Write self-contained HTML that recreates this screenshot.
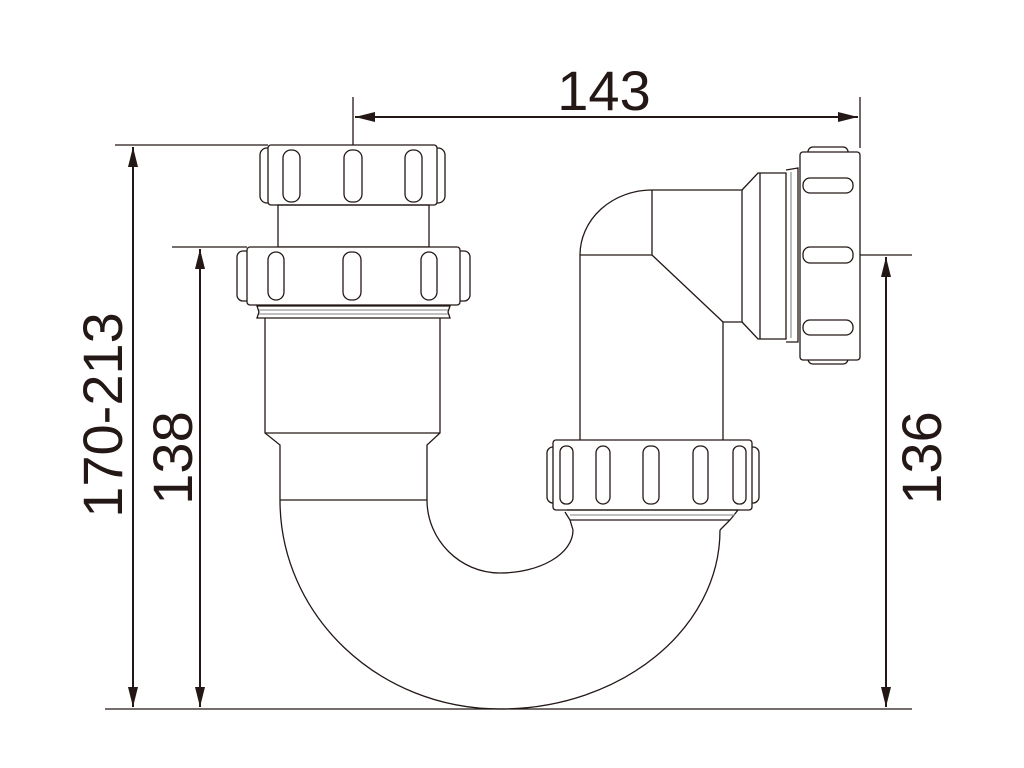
<!DOCTYPE html>
<html><head><meta charset="utf-8"><style>
html,body{margin:0;padding:0;background:#fff;}
svg{display:block;}
text{font-family:"Liberation Sans",Arial,sans-serif;fill:#231815;}
</style></head><body>
<svg width="1024" height="768" viewBox="0 0 1024 768" xmlns="http://www.w3.org/2000/svg">
<defs>
<marker id="a" viewBox="0 0 20 10" refX="20" refY="5" markerWidth="20" markerHeight="10" markerUnits="userSpaceOnUse" orient="auto-start-reverse">
<path d="M0,0 L20,5 L0,10 z" fill="#231815"/></marker>
</defs>
<g stroke="#231815" fill="none" stroke-width="1.3">
<line x1="105" y1="709" x2="912" y2="709"/>
<line x1="353" y1="97" x2="353" y2="145"/>
<line x1="860" y1="97" x2="860" y2="148"/>
<line x1="355" y1="117" x2="858" y2="117" stroke-width="2" marker-start="url(#a)" marker-end="url(#a)"/>
<line x1="115" y1="145" x2="268" y2="145"/>
<line x1="133" y1="147" x2="133" y2="707" stroke-width="2" marker-start="url(#a)" marker-end="url(#a)"/>
<line x1="172" y1="247" x2="247" y2="247"/>
<line x1="200" y1="249" x2="200" y2="707" stroke-width="2" marker-start="url(#a)" marker-end="url(#a)"/>
<line x1="860" y1="255" x2="912" y2="255"/>
<line x1="886" y1="257" x2="886" y2="707" stroke-width="2" marker-start="url(#a)" marker-end="url(#a)"/>

<rect x="260" y="148" width="16" height="55" rx="7"/>
<rect x="429" y="148" width="16" height="55" rx="7"/>
<rect x="268" y="145" width="169" height="60" rx="3" fill="#fff"/>
<rect x="283" y="150" width="17" height="52" rx="8"/>
<rect x="344" y="150" width="18" height="52" rx="8"/>
<rect x="405" y="150" width="17" height="52" rx="8"/>
<rect x="278" y="205" width="151" height="42"/>
<rect x="237" y="251" width="15" height="50" rx="6"/>
<rect x="455" y="251" width="15" height="50" rx="6"/>
<rect x="247" y="247" width="213" height="58" rx="3" fill="#fff"/>
<rect x="268" y="252" width="16" height="48" rx="8"/>
<rect x="343" y="252" width="18" height="48" rx="8"/>
<rect x="421" y="252" width="16" height="48" rx="8"/>
<path d="M257,306 L450,306 L448,312 L450,318 L257,318 L259,312 z"/>
<line x1="259" y1="310" x2="448" y2="310" stroke="#999"/>
<line x1="259" y1="314" x2="448" y2="314" stroke="#999"/>
<path d="M265,318 L265,433 L280,445 L280,500 M440,318 L440,433 L427,445 L427,500 M265,433 L440,433"/>
<line x1="280" y1="500" x2="427" y2="500"/>
<path d="M280,500 C280,615 378,709 500,709 C621,709 720,629 720,530"/>
<path d="M427,500 C427,540 460,573 500,573 C540,573 573,554 573,530"/>
<path d="M580,440 L580,255 A72,65 0 0 1 652,190 L742,190 L742,322 L723,322 L723,440"/>
<path d="M652,190 L652,255 L580,255 M652,255 L723,322"/>
<path d="M742,190 L758,173 L786,173 L786,339 L758,339 L742,322 M760,173 L760,339"/>
<path d="M786,170 L798,168 L798,342 L786,342" />
<line x1="791" y1="172" x2="791" y2="338" stroke="#999"/>
<rect x="808" y="147" width="40" height="12" rx="5"/>
<rect x="808" y="352" width="40" height="12" rx="5"/>
<rect x="800" y="152" width="60" height="208" rx="3" fill="#fff"/>
<rect x="803" y="178" width="50" height="15" rx="7"/>
<rect x="803" y="247" width="50" height="16" rx="7"/>
<rect x="803" y="320" width="50" height="15" rx="7"/>
<rect x="547" y="447" width="14" height="56" rx="6"/>
<rect x="745" y="447" width="14" height="56" rx="6"/>
<rect x="553" y="440" width="199" height="70" rx="3" fill="#fff"/>
<rect x="560" y="446" width="13" height="58" rx="6"/>
<rect x="596" y="446" width="14" height="58" rx="7"/>
<rect x="643" y="446" width="16" height="58" rx="7"/>
<rect x="693" y="446" width="15" height="58" rx="7"/>
<rect x="733" y="446" width="13" height="58" rx="6"/>
<path d="M567,510 L738,510 L730,520 L720,530 M573,530 L570,520 L565,512"/>
<line x1="570" y1="515" x2="735" y2="515" stroke="#999"/>
<line x1="570" y1="520" x2="730" y2="520"/>
</g>
<text x="604" y="110" font-size="56" text-anchor="middle">143</text>
<text transform="translate(122,415) rotate(-90)" font-size="56" text-anchor="middle">170-213</text>
<text transform="translate(192,458) rotate(-90)" font-size="56" text-anchor="middle">138</text>
<text transform="translate(941,458) rotate(-90)" font-size="56" text-anchor="middle">136</text>
</svg>
</body></html>
